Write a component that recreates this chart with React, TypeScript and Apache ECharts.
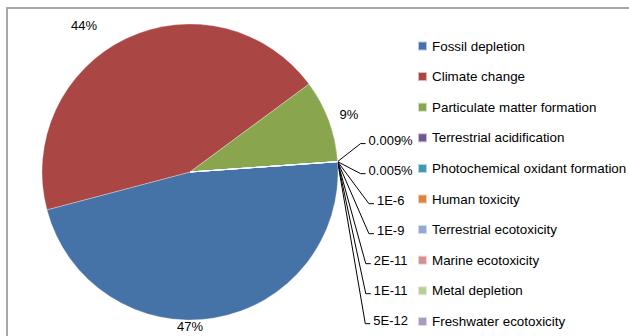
import React, { useEffect, useRef } from "react";
import * as echarts from "echarts";

const categories = [
  "Fossil depletion",
  "Climate change",
  "Particulate matter formation",
  "Terrestrial acidification",
  "Photochemical oxidant formation",
  "Human toxicity",
  "Terrestrial ecotoxicity",
  "Marine ecotoxicity",
  "Metal depletion",
  "Freshwater ecotoxicity",
];
// share of total impact, in percent
const shares = [47, 44, 9, 0.009, 0.005, 1e-6, 1e-9, 2e-11, 1e-11, 5e-12];
const colors = [
  "#4572A7",
  "#AA4643",
  "#89A54E",
  "#71588F",
  "#4198AF",
  "#DB843D",
  "#93A9CF",
  "#D19392",
  "#B9CD96",
  "#A99BBD",
];

const FONT = "'Liberation Sans', Arial, sans-serif";
const CX = 190;
const CY = 172;
const R = 148;
// offsets of the three large labels from the pie centre
const bigLabelOffsets: Record<number, [number, number]> = {
  0: [0, 154],
  1: [-106, -147],
  2: [159, -58],
};

function fmt(v: number): string {
  if (v >= 0.001) return `${v}%`;
  return v.toExponential(0).toUpperCase();
}

export default function App() {
  const ref = useRef<HTMLDivElement>(null);
  useEffect(() => {
    if (!ref.current) return;
    const chart = echarts.init(ref.current, undefined, { renderer: "svg" });
    const data = categories.map((name, i) => ({
      name,
      value: shares[i],
      itemStyle: { color: colors[i] },
      labelLine: { show: shares[i] < 1 },
    }));
    chart.setOption({
      animation: false,
      backgroundColor: "#ffffff",
      graphic: [
        {
          type: "rect",
          z: -1,
          shape: { x: 7, y: 8, width: 700, height: 400 },
          style: { fill: "none", stroke: "#a8a8a8", lineWidth: 2 },
        },
      ],
      legend: {
        orient: "vertical",
        left: 417,
        top: 38.5,
        height: 295,
        padding: 0,
        icon: "rect",
        itemWidth: 9,
        itemHeight: 9,
        itemGap: 15.6,
        selectedMode: false,
        textStyle: { fontFamily: FONT, fontSize: 13.4, color: "#000", lineHeight: 15 },
        data: categories,
      },
      series: [
        {
          type: "pie",
          center: [CX, CY],
          radius: R,
          startAngle: 4,
          clockwise: true,
          avoidLabelOverlap: false,
          itemStyle: { borderColor: "rgba(255,255,255,0.6)", borderWidth: 0.5 },
          label: {
            show: true,
            position: "outside",
            formatter: (p: any) => fmt(p.value),
            fontFamily: FONT,
            fontSize: 13,
            color: "#000",
          },
          labelLine: {
            show: true,
            length: 10,
            length2: 10,
            lineStyle: { color: "#000", width: 1 },
          },
          labelLayout: (p: any) => {
            const i = p.dataIndex;
            if (bigLabelOffsets[i]) {
              const o = bigLabelOffsets[i];
              return { x: CX + o[0], y: CY + o[1], align: "center", verticalAlign: "middle" };
            }
            const pts = p.labelLinePoints;
            const ax = pts ? pts[0][0] : CX + R;
            const ay = pts ? pts[0][1] : CY;
            const k = i - 3;
            const y = ay - 21 + k * 30;
            const x = ax + 53;
            const w = p.labelRect ? p.labelRect.width : 40;
            const left = x - w / 2;
            return {
              x,
              y,
              align: "center",
              verticalAlign: "middle",
              labelLinePoints: [
                [ax, ay],
                [left - 8, y + 3],
                [left - 3, y + 3],
              ],
            };
          },
          data,
        },
      ],
    });
    return () => chart.dispose();
  }, []);
  return (
    <div
      ref={ref}
      style={{ position: "fixed", left: 0, top: 0, width: 629, height: 336 }}
    />
  );
}
